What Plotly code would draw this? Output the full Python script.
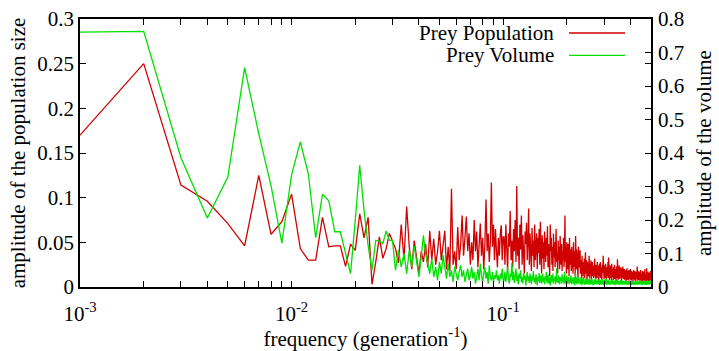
import numpy as np
import plotly.graph_objects as go

# ---- data (amplitude spectra, frequency k/1000, k = 1..500) ----
# Prey Population amplitude (left axis), in thousandths
red_low = [170, 250, 114, 96, 71, 46, 125, 59, 73, 104,
           43, 30, 30, 78, 45, 46, 46, 23, 48, 41,
           82, 55, 78, 3, 28, 56, 32, 43, 60, 52,
           43, 27]
red_mid = [70, 30, 90, 45, 20, 52, 35, 15, 40, 28,
           48, 22, 63, 30, 54, 25, 40, 63, 30, 50,
           63, 20, 45, 18, 110, 25, 40, 20, 67, 30,
           48, 80, 35, 55, 79, 40, 60, 25, 50, 30,
           75, 40, 62, 22, 45, 71, 35, 55, 20, 48,
           98, 40, 60, 28, 50, 117, 45, 70, 30, 65,
           40, 22, 55, 35, 60, 69, 30, 56]
red_high1 = [56, 25, 70, 38, 18, 60, 45, 85, 30, 52,
             22, 65, 40, 75, 28, 113, 35, 55, 20, 70,
             42, 80, 25, 58, 35, 15, 62, 48, 72, 30,
             50, 88, 25, 60, 40, 18, 66, 35, 52, 22,
             70, 30, 45, 60, 20, 55, 38, 65, 25, 73,
             40, 15, 58, 32, 50, 20, 62, 45, 28, 55,
             35, 68, 22, 48, 30, 12, 70, 40, 55, 25,
             45, 18, 60, 33, 50, 22, 42, 65, 28, 38,
             15, 52, 30, 45, 20, 57, 35, 25, 48, 18,
             40, 30, 55, 22, 38, 80, 28, 45, 15, 50,
             32, 20, 48, 35, 12, 55, 25, 42, 30, 18,
             45, 28, 38, 15, 50, 22, 35, 40, 12, 57,
             30, 20, 42, 25, 35, 10, 45, 28, 22, 38]
red_high2 = [41, 15, 30, 22, 8, 35, 18, 28, 12, 25,
             20, 32, 10, 26, 39, 15, 22, 30, 8, 24,
             18, 28, 12, 22, 35, 10, 20, 26, 14, 30,
             8, 22, 16, 28, 12, 24, 18, 10, 26, 15,
             32, 12, 20, 8, 25, 16, 22, 10, 28, 14,
             18, 24, 6, 20, 15, 26, 12, 28, 10, 18,
             22, 14, 8, 25, 16, 20, 35, 12, 18, 9,
             24, 15, 20, 10, 26, 14, 18, 7, 22, 16,
             12, 20, 28, 10, 33, 15, 22, 8, 18, 13,
             24, 10, 16, 21, 7, 26, 14, 18, 11, 20,
             15, 8, 22, 17, 12, 25, 9, 16, 20, 13,
             18, 6, 23, 14, 19, 10, 31, 12, 16, 8,
             20, 14, 11, 24, 16, 9, 18, 13, 22, 10,
             15, 19, 7, 21, 12, 17, 10, 23, 14, 21,
             9, 16, 12, 20, 8, 15, 18, 11, 14, 19,
             6, 17, 13, 10, 21, 14, 8, 16, 12, 18,
             10, 15, 7, 19, 13, 11, 17, 9, 14, 20,
             8, 13, 16, 10, 18, 12, 6, 15, 11, 17,
             9, 14, 12, 19, 7, 16, 10, 13, 18, 8,
             15, 11, 14, 6, 17, 10, 12, 16, 9, 23,
             11, 14, 7, 18, 10, 13, 16, 8, 12, 15,
             9, 17, 11, 6, 14, 12, 19, 8, 13, 10,
             16, 7, 12, 15, 9, 18, 11, 6, 14, 12,
             10, 17, 8, 13, 11, 15, 7, 20, 10, 12,
             14, 8, 16, 11, 6, 13, 21, 9, 12, 15,
             7, 14, 10, 17, 8, 12, 15, 6, 11, 16,
             9, 13, 7, 15, 11, 18, 8, 12, 14, 17]

# Prey Volume amplitude (right axis), in thousandths
green_low = [761, 763, 386, 206, 329, 655, 457, 302, 131, 335,
             433, 338, 147, 277, 257, 165, 165, 100, 40, 199,
             363, 229, 124, 50, 139, 137, 130, 167, 139, 139,
             50, 110]
green_mid = [60, 100, 40, 110, 60, 123, 80, 30, 90, 154,
             100, 70, 40, 85, 30, 60, 20, 75, 40, 96,
             55, 25, 70, 30, 50, 15, 60, 35, 20, 45,
             65, 30, 50, 15, 40, 55, 20, 35, 60, 25,
             45, 10, 30, 55, 20, 70, 35, 15, 40, 60,
             25, 45, 10, 65, 30, 20, 45, 15, 35, 25,
             50, 20, 35, 10, 40, 25, 55, 20]
green_high1 = [20, 45, 15, 35, 60, 25, 10, 40, 30, 72,
               20, 45, 12, 30, 55, 18, 35, 8, 40, 25,
               50, 15, 30, 10, 42, 22, 35, 5, 28, 45,
               18, 32, 12, 40, 25, 8, 35, 20, 48, 15,
               28, 10, 38, 22, 5, 30, 18, 42, 12, 25,
               35, 10, 22, 40, 15, 28, 8, 33, 20, 45,
               12, 25, 38, 10, 30, 18, 5, 28, 35, 15,
               22, 40, 10, 25, 18, 32, 8, 20, 55, 15,
               28, 12, 35, 20, 8, 30, 18, 25, 10, 38,
               15, 22, 30, 8, 45, 20, 12, 28, 18, 35,
               10, 25, 15, 30, 8, 22, 18, 12, 35, 20,
               8, 28, 15, 22, 10, 30, 18, 5, 25, 40,
               12, 20, 8, 28, 15, 22, 10, 30, 18, 12]
green_high2 = [20, 8, 28, 12, 18, 5, 25, 15, 10, 30,
               12, 22, 6, 18, 14, 26, 8, 20, 11, 16,
               24, 7, 15, 19, 10, 28, 13, 6, 21, 14,
               9, 18, 25, 11, 16, 5, 20, 13, 22, 8,
               17, 12, 26, 9, 15, 20, 7, 14, 18, 11,
               23, 8, 16, 12, 19, 6, 14, 21, 10, 15,
               7, 18, 12, 24, 9, 14, 17, 5, 20, 11,
               15, 22, 8, 13, 18, 10, 25, 12, 6, 16,
               19, 9, 14, 11, 21, 7, 15, 18, 10, 13,
               6, 17, 12, 20, 9, 14, 11, 23, 8, 15,
               12, 18, 7, 14, 10, 16, 20, 9, 13, 6,
               15, 11, 19, 8, 14, 12, 22, 10, 16, 7,
               13, 18, 9, 15, 11, 6, 17, 12, 20, 10,
               14, 8, 16, 11, 19, 7, 13, 15, 9, 18,
               10, 14, 6, 17, 12, 9, 15, 20, 11, 8,
               16, 12, 7, 14, 10, 18, 9, 13, 15, 6,
               12, 17, 10, 8, 14, 11, 19, 7, 13, 15,
               9, 12, 16, 6, 14, 10, 18, 11, 8, 13,
               15, 7, 12, 17, 9, 14, 11, 6, 16, 10,
               13, 8, 19, 11, 15, 7, 12, 14, 9, 17,
               10, 13, 6, 16, 12, 9, 15, 11, 18, 8,
               14, 10, 12, 7, 16, 13, 9, 15, 11, 20,
               8, 12, 14, 10, 17, 6, 13, 11, 15, 9,
               12, 16, 8, 14, 10, 18, 11, 7, 13, 15,
               9, 12, 17, 10, 14, 6, 15, 11, 19, 8,
               13, 10, 16, 12, 7, 14, 18, 9, 11, 15,
               10, 13, 8, 17, 12, 15, 9, 20, 11, 14]

pop_amp = np.array(red_low + red_mid + red_high1 + red_high2) / 1000.0
vol_amp = np.array(green_low + green_mid + green_high1 + green_high2) / 1000.0
freq_pop = np.arange(1, len(pop_amp) + 1) / 1000.0
freq_vol = np.arange(1, len(vol_amp) + 1) / 1000.0

series_names = ["Prey Population", "Prey Volume"]
x_tickvals = [1e-3, 1e-2, 1e-1]
x_ticktext = ["10<sup>-3</sup>", "10<sup>-2</sup>", "10<sup>-1</sup>"]
x_minor = [m * d for d in (1e-3, 1e-2, 1e-1) for m in range(2, 10) if m * d <= 0.5]
y1_vals = [0, 0.05, 0.1, 0.15, 0.2, 0.25, 0.3]
y1_text = ["0", "0.05", "0.1", "0.15", "0.2", "0.25", "0.3"]
y2_vals = [0, 0.1, 0.2, 0.3, 0.4, 0.5, 0.6, 0.7, 0.8]
y2_text = ["0", "0.1", "0.2", "0.3", "0.4", "0.5", "0.6", "0.7", "0.8"]

RED = "#d00000"
GREEN = "#00e000"
FONT = "'Liberation Serif', 'Times New Roman', Times, serif"

fig = go.Figure()
fig.add_trace(go.Scatter(x=freq_pop, y=pop_amp, mode="lines", name=series_names[0],
                         line=dict(color=RED, width=1.3), yaxis="y", showlegend=False))
fig.add_trace(go.Scatter(x=freq_vol, y=vol_amp, mode="lines", name=series_names[1],
                         line=dict(color=GREEN, width=1.3), yaxis="y2", showlegend=False))

fig.update_layout(
    width=719, height=351,
    margin=dict(l=80, r=68, t=19, b=64),
    paper_bgcolor="white", plot_bgcolor="white",
    font=dict(family=FONT, size=21, color="black"),
    xaxis=dict(type="log", range=[-3, np.log10(0.5)], automargin=False,
               tickvals=x_tickvals, ticktext=x_ticktext,
               ticks="inside", ticklen=6, tickwidth=1, tickcolor="black",
               ticklabelstandoff=7,
               minor=dict(tickvals=x_minor, ticks="inside", ticklen=3, tickcolor="black", showgrid=False),
               showline=True, linecolor="black", linewidth=1.5, mirror="allticks",
               showgrid=False, zeroline=False,
               title=dict(text="frequency (generation<sup>-1</sup>)", font=dict(size=21), standoff=6)),
    yaxis=dict(range=[0, 0.3], tickvals=y1_vals, ticktext=y1_text, automargin=False,
               ticks="inside", ticklen=6, tickcolor="black",
               showline=True, linecolor="black", linewidth=1.5, mirror="ticks",
               showgrid=False, zeroline=False,
               title=dict(text="amplitude of the population size", font=dict(size=21), standoff=6)),
    yaxis2=dict(range=[0, 0.8], tickvals=y2_vals, ticktext=y2_text, overlaying="y", side="right",
                automargin=False,
                ticks="inside", ticklen=6, tickcolor="black",
                showline=False, showgrid=False, zeroline=False, ticklabelstandoff=6,
                title=dict(text="amplitude of the volume", font=dict(size=21), standoff=12)),
)

# gnuplot-style key: text right-aligned, sample line to its right
key_rows = [(0.9478, series_names[0], RED), (0.8646, series_names[1], GREEN)]
for yk, label, col in key_rows:
    fig.add_annotation(x=0.8336, y=yk, xref="paper", yref="paper", text=label,
                       showarrow=False, xanchor="right", yanchor="middle",
                       font=dict(size=21, family=FONT))
    fig.add_shape(type="line", xref="paper", yref="paper", x0=0.8564, x1=0.9545,
                  y0=yk, y1=yk, line=dict(color=col, width=1.3))

fig.write_html("out.html")
